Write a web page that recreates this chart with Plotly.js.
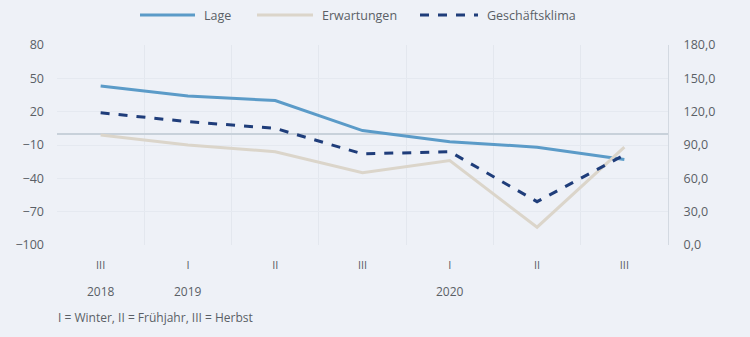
<!DOCTYPE html>
<html>
<head>
<meta charset="utf-8">
<script src="https://cdn.plot.ly/plotly-3.0.1.min.js"></script>
<style>
html,body{margin:0;padding:0;background:#eef1f7;}
#chart{width:750px;height:337px;}
</style>
</head>
<body>
<div id="chart"></div>
<script>
// Data
const quarterLabels = ["III", "I", "II", "III", "I", "II", "III"];
const yearLabels = ["2018", "2019", "", "", "2020", "", ""];
const seriesNames = ["Lage", "Erwartungen", "Geschäftsklima"];
const lage = [43, 34, 30, 3, -7, -12, -23];
const erwartungen = [-1, -10, -16, -35, -24, -84, -12];
const geschaeftsklima = [119, 111, 105, 82, 84, 39, 81]; // right axis (index)

const xIdx = quarterLabels.map((_, i) => i);
const textColor = "#5a5f66";
const bg = "#eef1f7";
const colors = ["#5b9bc8", "#dbd5ca", "#1f3d7a"];
const dashes = ["solid", "solid", "dash"];

const traces = [
  {x: xIdx, y: lage, name: seriesNames[0], type: "scatter", mode: "lines",
   line: {color: colors[0], width: 3}},
  {x: xIdx, y: erwartungen, name: seriesNames[1], type: "scatter", mode: "lines",
   line: {color: colors[1], width: 3}},
  {x: xIdx, y: geschaeftsklima, name: seriesNames[2], type: "scatter", mode: "lines",
   yaxis: "y2", line: {color: colors[2], width: 3, dash: "dash"}}
];

// pixel -> paper helpers (plot area: x 57..668, y 45..245)
const px = v => (v - 57) / 611;
const py = v => (245 - v) / 200;

const annotations = [];
yearLabels.forEach((y, i) => {
  if (y) annotations.push({x: i, y: py(291), xref: "x", yref: "paper",
    text: y, showarrow: false, yanchor: "middle", font: {size: 12, color: textColor}});
});
annotations.push({x: px(56), y: py(317), xref: "paper", yref: "paper", showarrow: false,
  text: "I = Winter, II = Frühjahr, III = Herbst", font: {size: 12, color: textColor},
  xanchor: "left", yanchor: "middle"});

// manual legend
const legLine = [[140, 195], [257, 313], [420, 478]];
const shapes = [];
seriesNames.forEach((n, i) => {
  shapes.push({type: "line", xref: "paper", yref: "paper",
    x0: px(legLine[i][0]), x1: px(legLine[i][1]), y0: py(15), y1: py(15),
    line: {color: colors[i], width: 3, dash: dashes[i]}});
  annotations.push({x: px(legLine[i][1] + 7), y: py(15), xref: "paper", yref: "paper",
    text: n, showarrow: false, xanchor: "left", yanchor: "middle",
    font: {size: 12.5, color: textColor}});
});

const layout = {
  width: 750, height: 337,
  paper_bgcolor: bg, plot_bgcolor: bg,
  separators: ",.",
  font: {family: "Open Sans, sans-serif", size: 12, color: textColor},
  margin: {l: 57, r: 82, t: 45, b: 92},
  showlegend: false,
  xaxis: {type: "linear", range: [-0.5, 6.5], tickvals: xIdx, ticktext: quarterLabels,
    showgrid: false, zeroline: false, showline: false, ticks: "",
    ticklabelstandoff: 12, tickfont: {size: 11, color: textColor},
    minor: {tickvals: [0.5, 1.5, 2.5, 3.5, 4.5, 5.5], showgrid: true,
      gridcolor: "#e3e7ee", gridwidth: 1}},
  yaxis: {range: [-100, 80], dtick: 30, tick0: -100, showgrid: true,
    gridcolor: "#e5e9f0", gridwidth: 1, zeroline: true, zerolinecolor: "#c8d1da",
    zerolinewidth: 2, showline: false, ticks: "", ticklabelstandoff: 12,
    tickfont: {size: 12.5, color: textColor}},
  yaxis2: {range: [0, 180], dtick: 30, tick0: 0, overlaying: "y", side: "right",
    tickformat: ".1f", showgrid: false, zeroline: false, showline: true,
    linecolor: "#d3d9e1", linewidth: 1, ticks: "", ticklabelstandoff: 12,
    tickfont: {size: 12.5, color: textColor}},
  shapes: shapes,
  annotations: annotations
};

Plotly.newPlot("chart", traces, layout, {displayModeBar: false, staticPlot: true});
</script>
</body>
</html>
